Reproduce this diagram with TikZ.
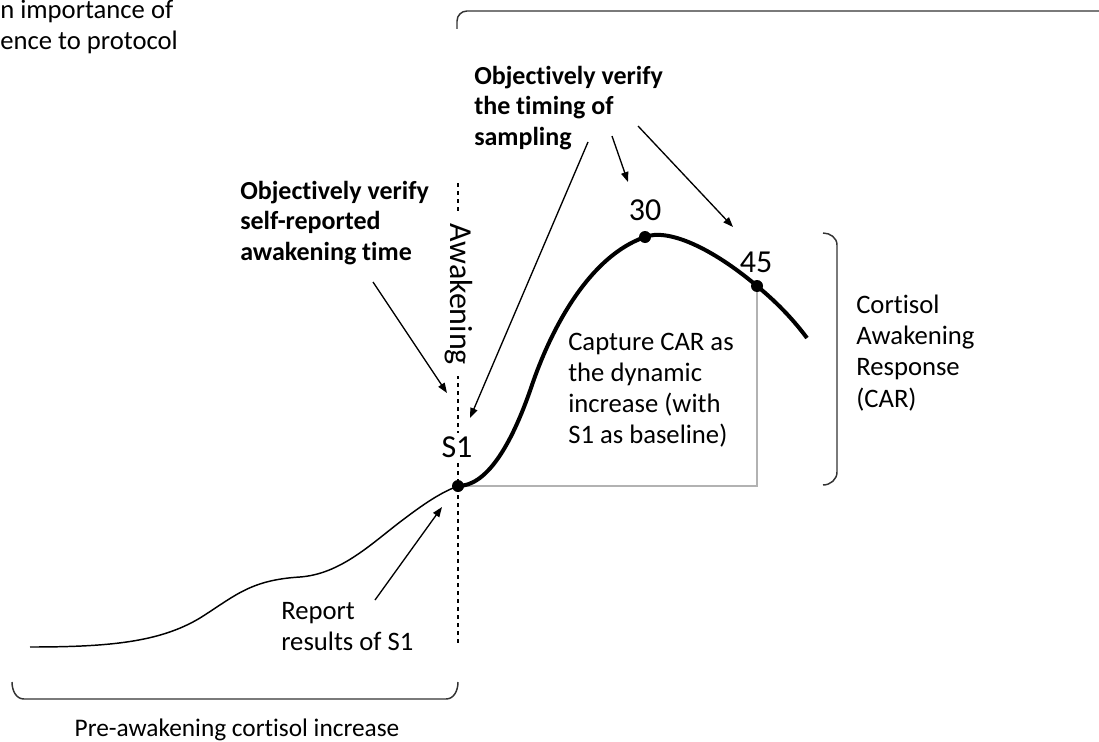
\documentclass[tikz,border=0pt]{standalone}
\usepackage{fontspec}
\setmainfont{Carlito}[Ligatures=NoCommon]
\usetikzlibrary{arrows.meta}
\tikzset{
  txt/.style={font=\fontsize{20}{23.3}\selectfont, align=left, inner sep=0pt},
  boldtxt/.style={txt, font=\fontsize{19.5}{23}\selectfont\bfseries},
  num/.style={font=\fontsize{24}{28}\selectfont, inner sep=1pt},
  dot/.style={circle, fill=black, inner sep=0pt, minimum size=9pt},
  pointer/.style={-{Triangle[length=7.5pt,width=5.5pt]}, line width=1pt},
  brace/.style={line width=1.1pt, black!80}
}
\begin{document}
\begin{tikzpicture}[x=0.75pt,y=-0.75pt]
\useasboundingbox (0,0) rectangle (1099,742);

\draw[dashed, line width=0.9pt] (458,183) -- (458,646);
\draw[gray!60, line width=0.9pt] (458,486) -- (757,486) -- (757,286);

\node[txt, anchor=west] (adh) at (0,27) {n importance of\\ence to protocol};
\node[boldtxt, anchor=west] (timing) at (474,108) {Objectively verify\\the timing of\\sampling};
\node[boldtxt, anchor=west] (selfrep) at (240,223) {Objectively verify\\self-reported\\awakening time};
\node[txt, anchor=west] (capture) at (568,390) {Capture CAR as\\the dynamic\\increase (with\\S1 as baseline)};
\node[txt, anchor=west] (car) at (856,353) {Cortisol\\Awakening\\Response\\(CAR)};
\node[txt, anchor=west] (report) at (281,627) {Report\\results of S1};
\node[txt, font=\fontsize{19}{23}\selectfont] (pre) at (237,730) {Pre-awakening cortisol increase};

\node[num, fill=white, rotate=-90, inner xsep=8pt] (awake) at (459,294) {Awakening};
\node[num, fill=white, inner ysep=3pt] (lbls1) at (457,447) {S1};
\node[num] (lbl30) at (645,210) {30};
\node[num] (lbl45) at (756,262) {45};

\node[dot] (s1) at (458,486) {};
\node[dot] (t30) at (645,237) {};
\node[dot] (t45) at (757,286) {};

\draw[line width=1.1pt] (30,647) .. controls (110,647) and (160,642) .. (200,618)
  .. controls (235,596) and (250,580) .. (300,577)
  .. controls (340,574) and (370,545) .. (400,522)
  .. controls (425,503) and (440,493) .. (s1.center);
\draw[line width=3pt] (s1.center) .. controls (485,486) and (510,450) .. (532,385)
  .. controls (548,338) and (585,258) .. (t30.center)
  .. controls (668,228) and (712,248) .. (t45.center)
  .. controls (780,305) and (795,322) .. (807,338);

\coordinate (a1) at (588,142);
\coordinate (a2) at (612,136);
\coordinate (a3) at (638,126);
\coordinate (b1) at (470,418);
\coordinate (b2) at (628,182);
\coordinate (b3) at (733,227);
\draw[pointer] (a1) -- (b1);
\draw[pointer] (a2) -- (b2);
\draw[pointer] (a3) -- (b3);

\coordinate (c1) at (373,282);
\coordinate (c2) at (447,393);
\draw[pointer] (c1) -- (c2);

\coordinate (r1) at (375,600);
\coordinate (r2) at (442,507);
\draw[pointer] (r1) -- (r2);

\draw[brace] (457,29) -- (457,21) to[out=90,in=180] (467,11) -- (1100,11);
\draw[brace] (823,233) to[out=0,in=90] (837,245) -- (837,472) to[out=-90,in=0] (823,485);
\draw[brace] (12,682) to[out=-90,in=180] (24,699) -- (446,699) to[out=0,in=-90] (458,682);
\end{tikzpicture}
\end{document}
